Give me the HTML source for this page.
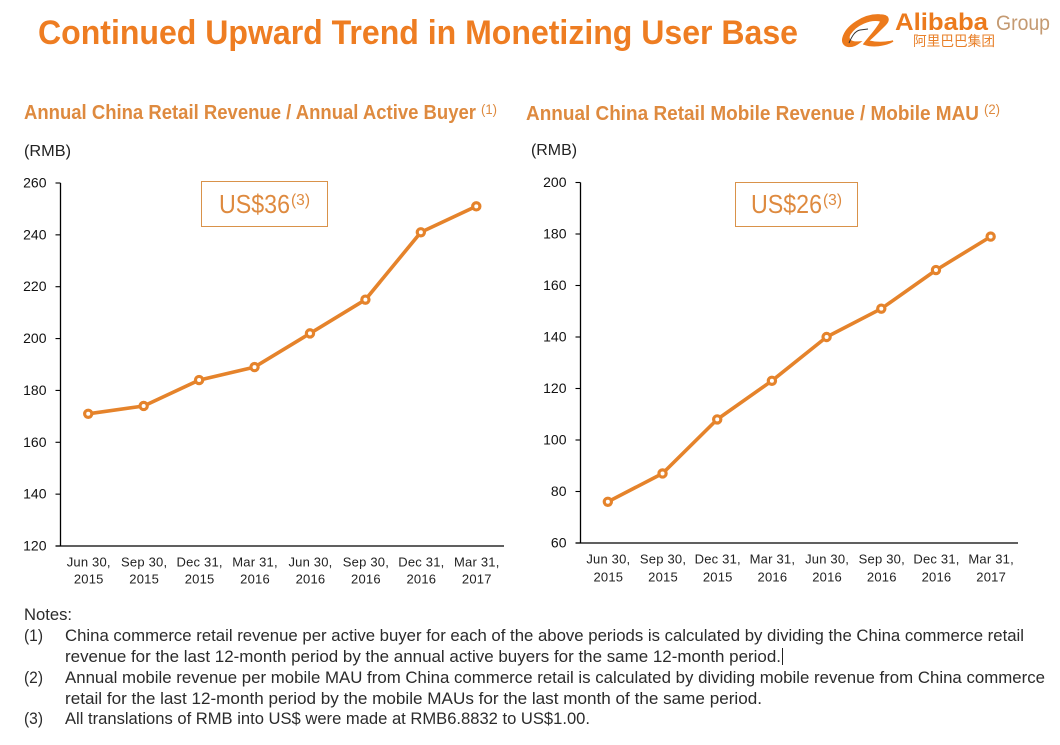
<!DOCTYPE html>
<html lang="en">
<head>
<meta charset="utf-8">
<title>Continued Upward Trend in Monetizing User Base</title>
<style>
html,body{margin:0;padding:0;background:#fff;width:1060px;height:745px;overflow:hidden}
svg{display:block}
text{font-family:"Liberation Sans","Noto Sans CJK SC",sans-serif}
.note{font-size:16.5px;fill:#2b2b2b}
.sec{font-size:20.5px;font-weight:bold;fill:#DE8A3F}
.tick{font-size:14px;fill:#111}
.cat{font-size:13px;fill:#222;text-anchor:middle;letter-spacing:.2px}
.unit{font-size:16px;fill:#222}
</style>
</head>
<body>
<svg id="page" xmlns="http://www.w3.org/2000/svg" width="1060" height="745" viewBox="0 0 1060 745">
  <rect width="1060" height="745" fill="#fff"/>
  <text x="38" y="44" font-size="34" font-weight="bold" fill="#EE7D22" textLength="760" lengthAdjust="spacingAndGlyphs">Continued Upward Trend in Monetizing User Base</text>

  <g>
    <path d="M860 42 C850 50 841 46 843 38 C846 26 864 14 880 15 C889 15 890 20 885 25 C878 32 872 38 868 41 C876 43 885 43 893 41 C885 46 872 47 864 44 C870 36 878 28 881 21 C870 18 856 25 850 34 C847 39 850 43 860 42 Z" fill="#EC7A1C" stroke="#EC7A1C" stroke-width="1.5"/>
    <path d="M849 43 C852 36 855 31 860 30 L868 29" fill="none" stroke="#333" stroke-width="1"/>
    <text x="895" y="30" font-size="24" font-weight="bold" fill="#EC7A1C" textLength="93" lengthAdjust="spacingAndGlyphs">Alibaba</text>
    <text x="996" y="30" font-size="21" fill="#C49A72" textLength="54" lengthAdjust="spacingAndGlyphs">Group</text>
    <text x="913" y="46" font-size="14" fill="#E8802A" textLength="82" lengthAdjust="spacingAndGlyphs">阿里巴巴集团</text>
  </g>

  <text class="sec" x="24" y="119" textLength="452" lengthAdjust="spacingAndGlyphs">Annual China Retail Revenue / Annual Active Buyer</text>
  <text x="481" y="114" font-size="14" fill="#DE8A3F" textLength="16" lengthAdjust="spacingAndGlyphs">(1)</text>
  <text class="sec" x="526" y="120" textLength="453" lengthAdjust="spacingAndGlyphs">Annual China Retail Mobile Revenue / Mobile MAU</text>
  <text x="984" y="114" font-size="14" fill="#DE8A3F" textLength="16" lengthAdjust="spacingAndGlyphs">(2)</text>

  <text class="unit" x="24" y="156" textLength="47" lengthAdjust="spacingAndGlyphs">(RMB)</text>
  <text class="unit" x="531" y="155" textLength="46" lengthAdjust="spacingAndGlyphs">(RMB)</text>

  <g id="left-chart"></g>
  <g id="right-chart"></g>

  <g>
    <rect x="201.5" y="181.5" width="126" height="45" fill="#fff" stroke="#D9924A" stroke-width="1"/>
    <text x="219" y="213" font-size="26" fill="#DE8A3F" textLength="71" lengthAdjust="spacingAndGlyphs">US$36</text>
    <text x="291" y="205" font-size="16" fill="#DE8A3F" textLength="19" lengthAdjust="spacingAndGlyphs">(3)</text>
  </g>
  <g>
    <rect x="735.5" y="182.5" width="122" height="44" fill="#fff" stroke="#D9924A" stroke-width="1"/>
    <text x="751" y="213" font-size="26" fill="#DE8A3F" textLength="71" lengthAdjust="spacingAndGlyphs">US$26</text>
    <text x="823" y="205" font-size="16" fill="#DE8A3F" textLength="19" lengthAdjust="spacingAndGlyphs">(3)</text>
  </g>

  <g>
    <text class="note" x="24" y="620" textLength="48" lengthAdjust="spacingAndGlyphs">Notes:</text>
    <text class="note" x="24" y="641" textLength="19" lengthAdjust="spacingAndGlyphs">(1)</text>
    <text class="note" x="65" y="641" textLength="959" lengthAdjust="spacingAndGlyphs">China commerce retail revenue per active buyer for each of the above periods is calculated by dividing the China commerce retail</text>
    <text class="note" x="65" y="662" textLength="716" lengthAdjust="spacingAndGlyphs">revenue for the last 12-month period by the annual active buyers for the same 12-month period.</text>
    <rect x="782" y="648" width="1" height="17" fill="#222"/>
    <text class="note" x="24" y="683" textLength="19" lengthAdjust="spacingAndGlyphs">(2)</text>
    <text class="note" x="65" y="683" textLength="980" lengthAdjust="spacingAndGlyphs">Annual mobile revenue per mobile MAU from China commerce retail is calculated by dividing mobile revenue from China commerce</text>
    <text class="note" x="65" y="704" textLength="697" lengthAdjust="spacingAndGlyphs">retail for the last 12-month period by the mobile MAUs for the last month of the same period.</text>
    <text class="note" x="24" y="724" textLength="19" lengthAdjust="spacingAndGlyphs">(3)</text>
    <text class="note" x="65" y="724" textLength="525" lengthAdjust="spacingAndGlyphs">All translations of RMB into US$ were made at RMB6.8832 to US$1.00.</text>
  </g>
</svg>
<script>
var categoryDates = ["Jun 30,", "Sep 30,", "Dec 31,", "Mar 31,", "Jun 30,", "Sep 30,", "Dec 31,", "Mar 31,"];
var categoryYears = ["2015", "2015", "2015", "2016", "2016", "2016", "2016", "2017"];
var revenuePerBuyer = [171, 174, 184, 189, 202, 215, 241, 251];
var revenuePerMau = [76, 87, 108, 123, 140, 151, 166, 179];
var leftTicks = [120, 140, 160, 180, 200, 220, 240, 260];
var rightTicks = [60, 80, 100, 120, 140, 160, 180, 200];

var SVGNS = "http://www.w3.org/2000/svg";

function make(tag, attrs, parent) {
  var el = document.createElementNS(SVGNS, tag);
  for (var k in attrs) { el.setAttribute(k, attrs[k]); }
  parent.appendChild(el);
  return el;
}

function drawChart(parent, prefix, values, ticks, box) {
  var minV = ticks[0];
  var maxV = ticks[ticks.length - 1];
  var band = (box.right - box.left) / values.length;
  function xScale(i) { return box.left + band * (i + 0.5); }
  function yScale(v) { return box.bottom - (v - minV) / (maxV - minV) * (box.bottom - box.top); }

  var yAxis = make("line", {x1: box.left, x2: box.left, y1: box.top, y2: box.bottom, stroke: "#000", "stroke-width": 1.3}, parent);
  
  
  var xAxis = make("line", {x1: box.left - 5, x2: box.right, y1: box.bottom, y2: box.bottom, stroke: "#000", "stroke-width": 1.3}, parent);
  
  

  ticks.forEach(function (t) {
    var y = yScale(t);
    var mark = make("line", {x1: box.left - 5, x2: box.left, y1: y, y2: y, stroke: "#000", "stroke-width": 1.1}, parent);
    
    
    var label = make("text", {x: box.left - 14, y: y + 4.5, "text-anchor": "end", "class": "tick"}, parent);
    label.textContent = t;
    
    
  });

  categoryDates.forEach(function (d, i) {
    var x = xScale(i);
    var top = make("text", {x: x + box.catShift, y: box.bottom + box.catGap1, "class": "cat"}, parent);
    top.textContent = d;
    
    
    var bot = make("text", {x: x + box.catShift, y: box.bottom + box.catGap2, "class": "cat"}, parent);
    bot.textContent = categoryYears[i];
    
    
  });

  var pts = values.map(function (v, i) { return xScale(i).toFixed(1) + "," + yScale(v).toFixed(1); }).join(" ");
  var line = make("polyline", {points: pts, fill: "none", stroke: "#E5832B", "stroke-width": 3.6, "stroke-linejoin": "round"}, parent);
  
  

  values.forEach(function (v, i) {
    var pt = make("circle", {cx: xScale(i), cy: yScale(v), r: 3.6, fill: "#fff", stroke: "#E5832B", "stroke-width": 3.2}, parent);
    
    
  });
}

drawChart(document.getElementById("left-chart"), "left", revenuePerBuyer, leftTicks,
  {left: 60.5, right: 504, top: 183, bottom: 546, catGap1: 20.5, catGap2: 37.5, catShift: 0.5});
drawChart(document.getElementById("right-chart"), "right", revenuePerMau, rightTicks,
  {left: 580.5, right: 1018, top: 182.5, bottom: 543, catGap1: 20.5, catGap2: 38.5, catShift: 0.5});
</script>
</body>
</html>
